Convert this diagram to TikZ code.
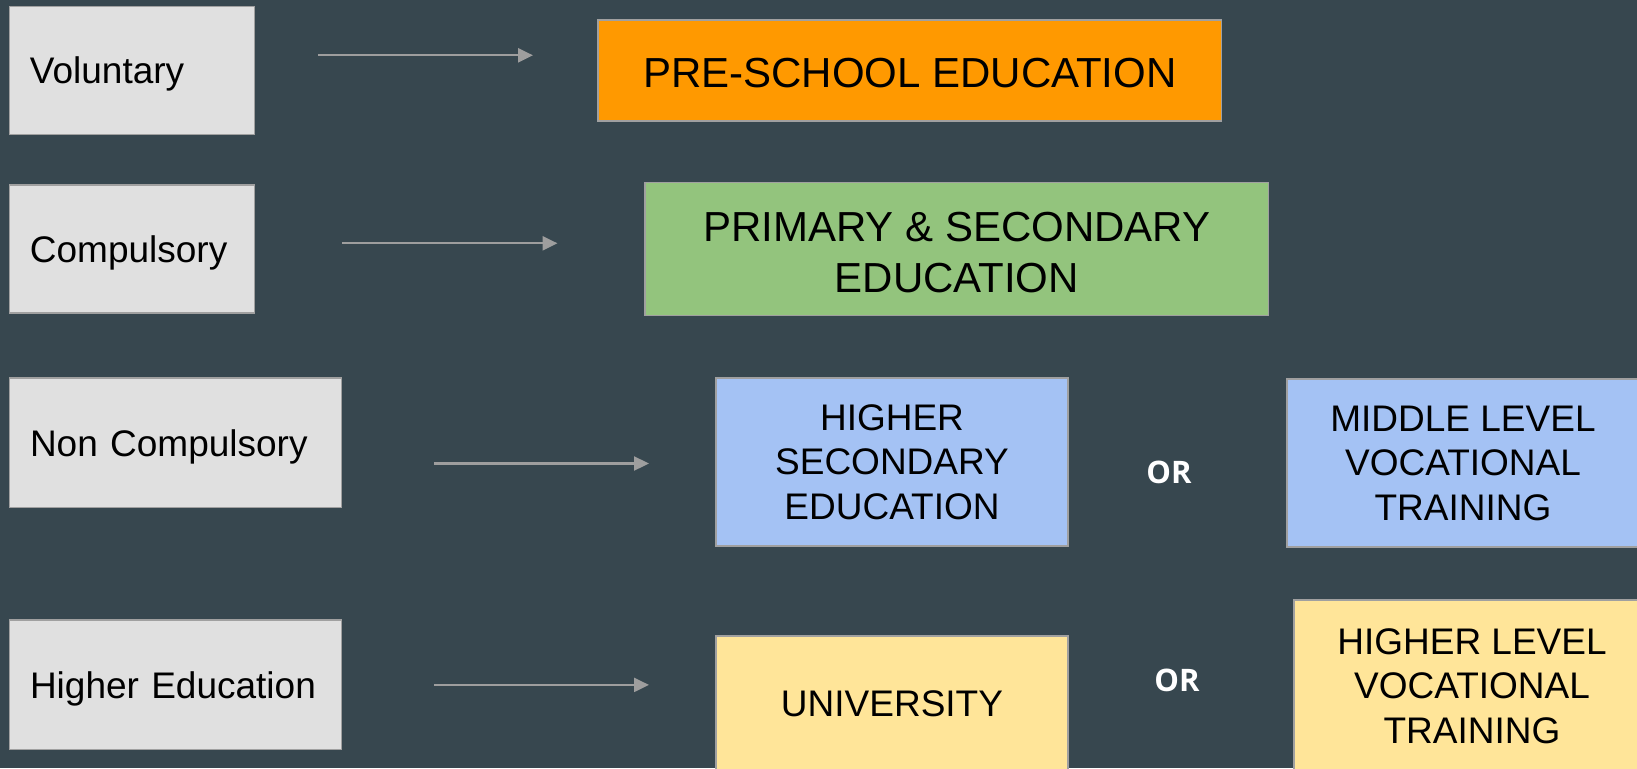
\documentclass[tikz,border=0pt]{standalone}
\usepackage{fontspec}
\setmainfont{Liberation Sans}
\newfontfamily\orfont{Open Sans}
\usetikzlibrary{arrows.meta}
\definecolor{bgc}{HTML}{37474F}
\definecolor{grayfill}{HTML}{E0E0E0}
\definecolor{edgec}{HTML}{A0A0A0}
\definecolor{arrowc}{HTML}{9E9E9E}
\definecolor{orangec}{HTML}{FF9900}
\definecolor{greenc}{HTML}{93C47D}
\definecolor{bluec}{HTML}{A4C2F4}
\definecolor{yellowc}{HTML}{FFE599}
\tikzset{
  lbl/.style={draw=edgec, line width=1.5pt, fill=grayfill, inner xsep=20.6pt, inner ysep=0pt,
    align=left, font=\fontsize{37}{44.5}\selectfont, text=black, text depth=0pt},
  stage/.style={draw=edgec, line width=1.5pt, inner sep=0pt, align=center, text=black},
  bigtxt/.style={font=\fontsize{42}{50.5}\selectfont},
  smtxt/.style={font=\fontsize{37}{44.5}\selectfont},
  ortxt/.style={text=white, font=\orfont\bfseries\fontsize{31}{37}\selectfont, inner sep=0pt},
  arr/.style={draw=arrowc, line width=2.3pt, -{Triangle[length=15pt,width=14pt]}}
}
\begin{document}
\begin{tikzpicture}[x=1pt,y=-1pt]
\useasboundingbox (0,0) rectangle (1637,768);
\fill[bgc] (0,0) rectangle (1637,768);
\clip (0,0) rectangle (1637,768);
% left labels
\node[lbl, text width=204.1pt, minimum height=128.4pt] (vol) at (132,70.5) {Voluntary};
\node[lbl, text width=204.1pt, minimum height=128.4pt] (com) at (132,249) {Compulsory};
\node[lbl, text width=290.8pt, minimum height=129.5pt] (non) at (175.4,442.6) {Non Compulsory};
\node[lbl, text width=290.8pt, minimum height=129.5pt] (hed) at (175.4,684.9) {Higher Education};
% stage boxes
\node[stage, bigtxt, text height=35pt, fill=orangec, minimum width=623.5pt, minimum height=101.3pt] (pre) at (909.8,70.5) {PRE-SCHOOL EDUCATION};
\node[stage, bigtxt, fill=greenc, minimum width=623.5pt, minimum height=132.6pt] (pri) at (956.8,249) {\rule{0pt}{36pt}PRIMARY \& SECONDARY\\EDUCATION};
\node[stage, smtxt, fill=bluec, minimum width=352pt, minimum height=168pt] (hsec) at (892,462) {HIGHER\\SECONDARY\\EDUCATION};
\node[stage, smtxt, fill=bluec, minimum width=352pt, minimum height=168pt] (mid) at (1463,463) {MIDDLE LEVEL\\VOCATIONAL\\TRAINING};
\node[stage, smtxt, fill=yellowc, minimum width=352pt, minimum height=136pt] (univ) at (892,704) {UNIVERSITY};
\node[stage, smtxt, fill=yellowc, minimum width=356pt, minimum height=172pt] (hlev) at (1472,686) {HIGHER LEVEL\\VOCATIONAL\\TRAINING};
% OR labels
\node[ortxt] (or1) at (1169,472) {OR};
\node[ortxt] (or2) at (1177,680) {OR};
% arrows
\coordinate (a1s) at (318,55.3);  \coordinate (a1e) at (533,55.3);
\coordinate (a2s) at (342,243.3); \coordinate (a2e) at (557.5,243.3);
\coordinate (a3s) at (434,463.5); \coordinate (a3e) at (649,463.5);
\coordinate (a4s) at (434,684.9); \coordinate (a4e) at (649,684.9);
\draw[arr] (a1s) -- (a1e);
\draw[arr] (a2s) -- (a2e);
\draw[arr] (a3s) -- (a3e);
\draw[arr] (a4s) -- (a4e);
\end{tikzpicture}
\end{document}
